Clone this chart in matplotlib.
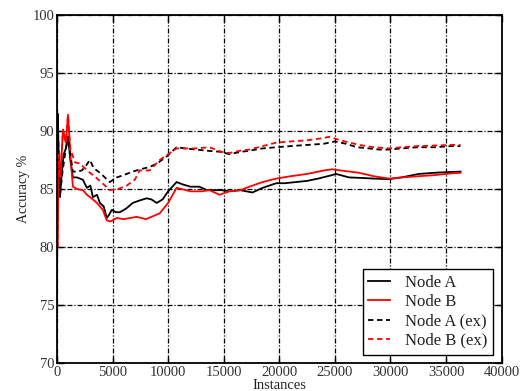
import matplotlib
matplotlib.use("Agg")
import matplotlib.pyplot as plt

plt.rcParams['font.family'] = ['Liberation Serif', 'DejaVu Serif']

# Node A (solid black)
a_x = [0, 60, 150, 270, 400, 600, 800, 1000, 1200, 1430, 1800, 2330, 2690, 3000,
       3230, 3600, 3860, 4200, 4480, 4700, 4930, 5300, 5650, 6200, 6820, 7400, 8070,
       8500, 8970, 9500, 10000, 10760, 11300, 12000, 12800, 13500, 14300, 14800, 15500,
       16500, 17580, 18500, 19730, 20500, 21500, 22500, 23500, 24750, 25100, 26280,
       27500, 28500, 29870, 31000, 32550, 34000, 35000, 36300]
a_y = [76.0, 91.5, 88.0, 84.3, 86.0, 88.0, 88.5, 89.5, 87.5, 86.0, 86.0, 85.8, 85.1, 85.3,
       84.3, 84.5, 83.8, 83.5, 82.5, 82.8, 83.2, 83.0, 83.0, 83.3, 83.8, 84.0, 84.2,
       84.1, 83.8, 84.1, 84.8, 85.6, 85.4, 85.2, 85.2, 84.9, 84.9, 84.9, 84.8,
       84.9, 84.7, 85.1, 85.5, 85.5, 85.6, 85.7, 85.9, 86.2, 86.3, 86.0,
       85.95, 85.9, 85.85, 86.0, 86.3, 86.4, 86.45, 86.5]

# Node B (solid red)
b_x = [0, 50, 150, 300, 540, 800, 990, 1200, 1430, 1800, 2330, 2700, 3230, 3600, 4120,
       4480, 4800, 5380, 6000, 7170, 8000, 8500, 9240, 10000, 10760, 11200, 12000,
       13000, 13720, 14620, 15500, 16500, 17300, 18500, 19730, 21000, 22500, 24000,
       24750, 25500, 27170, 28500, 29870, 31000, 32500, 34000, 35500, 36300]
b_y = [80.0, 80.0, 88.0, 86.0, 90.1, 89.0, 91.4, 88.0, 85.2, 85.0, 84.9, 84.5, 84.1, 83.8, 83.2,
       82.3, 82.2, 82.5, 82.4, 82.6, 82.4, 82.6, 82.9, 83.8, 85.1, 85.0, 84.8,
       84.8, 84.9, 84.5, 84.8, 84.9, 85.2, 85.6, 85.9, 86.1, 86.3, 86.6,
       86.7, 86.6, 86.4, 86.1, 85.9, 86.0, 86.1, 86.2, 86.35, 86.4]

# Node A (ex) (dashed black)
aex_x = [0, 60, 150, 270, 500, 800, 1000, 1200, 1430, 1800, 2240, 2600, 2960, 3300, 3860,
         4300, 4750, 5380, 6000, 6820, 7500, 8340, 9000, 9860, 10760, 11500, 12550,
         13500, 14800, 15500, 16500, 17300, 18500, 19730, 21000, 22500, 24000, 25000,
         26000, 27000, 28070, 29000, 29870, 31000, 32500, 34000, 35500, 36300]
aex_y = [76.0, 91.5, 88.0, 84.5, 86.5, 88.5, 89.5, 88.0, 86.5, 86.5, 86.6, 87.0, 87.5, 86.8, 86.4,
         86.0, 85.6, 86.0, 86.2, 86.5, 86.7, 86.9, 87.2, 87.8, 88.6, 88.5, 88.4,
         88.3, 88.2, 88.0, 88.2, 88.3, 88.5, 88.6, 88.7, 88.8, 88.9, 89.1,
         88.9, 88.6, 88.5, 88.4, 88.4, 88.5, 88.6, 88.6, 88.7, 88.7]

# Node B (ex) (dashed red)
bex_x = [0, 50, 150, 300, 540, 800, 990, 1200, 1610, 2060, 2500, 2960, 3500, 4200, 4750,
         5500, 6280, 7000, 7440, 8340, 9240, 10000, 10760, 11500, 12500, 13720, 14800,
         15500, 16500, 17300, 18500, 19730, 21000, 22500, 24000, 24480, 25500, 27170,
         28500, 29870, 31000, 32500, 34000, 35500, 36300]
bex_y = [80.0, 80.0, 88.0, 86.0, 90.1, 89.0, 91.4, 88.5, 87.3, 87.2, 86.8, 86.4, 86.0, 85.4, 84.9,
         85.0, 85.3, 85.8, 86.6, 86.6, 87.5, 88.0, 88.5, 88.5, 88.5, 88.6, 88.2,
         88.1, 88.3, 88.4, 88.7, 89.0, 89.1, 89.2, 89.4, 89.5, 89.2, 88.8,
         88.6, 88.5, 88.6, 88.7, 88.75, 88.8, 88.8]

labels = ['Node A', 'Node B', 'Node A (ex)', 'Node B (ex)']

fig = plt.figure(figsize=(5.2, 3.91), dpi=100)
ax = fig.add_axes([0.1096, 0.0716, 0.855, 0.89])

ax.plot(a_x, a_y, color='black', lw=1.3, label=labels[0])
ax.plot(b_x, b_y, color='red', lw=1.3, label=labels[1])
ax.plot(aex_x, aex_y, color='black', lw=1.3, linestyle=(0, (3, 2)), label=labels[2])
ax.plot(bex_x, bex_y, color='red', lw=1.3, linestyle=(0, (3, 2)), label=labels[3])

ax.set_xlim(0, 40000)
ax.set_ylim(70, 100)
ax.set_xticks(range(0, 40001, 5000))
ax.set_yticks(range(70, 101, 5))
ax.grid(True, color='black', linestyle=(0, (4, 1.5, 1, 1.5)), lw=0.9)
ax.tick_params(direction='in', top=True, right=True, length=5, width=1,
               labelsize=10.5, labelcolor='#333333', pad=2)
for s in ax.spines.values():
    s.set_linewidth(1.3)

ax.set_xlabel('Instances', fontsize=10.5, labelpad=0, color='#222222')
ax.set_ylabel('Accuracy %', fontsize=10, labelpad=2, color='#222222')

leg = ax.legend(loc='lower right', fontsize=12, fancybox=False, framealpha=1,
                edgecolor='black', handlelength=1.3, handletextpad=0.9,
                labelspacing=0.2, borderpad=0.35, borderaxespad=0.5)
leg.get_frame().set_linewidth(1.0)
for t in leg.get_texts():
    t.set_color('#222222')

fig.savefig('out.png', dpi=100)
